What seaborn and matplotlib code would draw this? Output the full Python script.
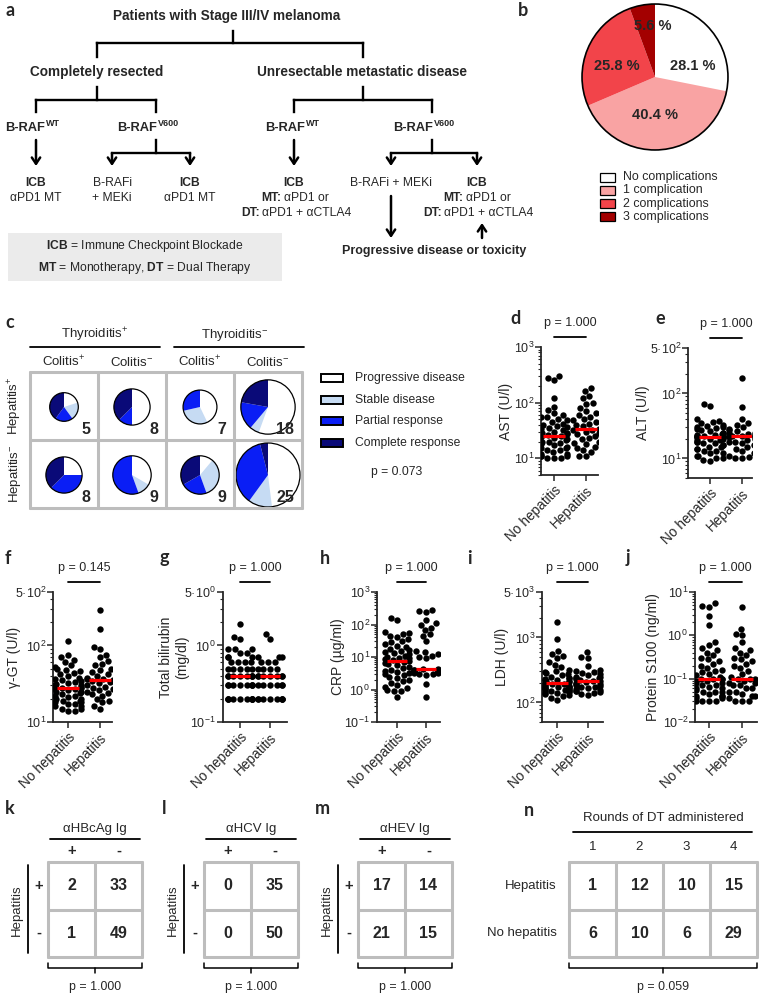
import numpy as np
import pandas as pd
import matplotlib
matplotlib.use("Agg")
import matplotlib.pyplot as plt
from matplotlib.patches import Rectangle, Circle
from matplotlib.ticker import LogLocator, NullFormatter
import seaborn as sns

# ---- data ----
complication_labels = ["No complications", "1 complication", "2 complications", "3 complications"]
complication_pct = [28.1, 40.4, 25.8, 5.6]
complication_colors = ["#FFFFFF", "#F9A3A3", "#F2444A", "#A30000"]

response_labels = ["Progressive disease", "Stable disease", "Partial response", "Complete response"]
response_colors = ["#FFFFFF", "#C6DBF3", "#0A1EF5", "#0A0A78"]
thyroiditis_groups = ["Thyroiditis$^{+}$", "Thyroiditis$^{-}$"]
colitis_groups = ["Colitis$^{+}$", "Colitis$^{-}$", "Colitis$^{+}$", "Colitis$^{-}$"]
hepatitis_groups = ["Hepatitis$^{+}$", "Hepatitis$^{-}$"]
# counts per cell: [progressive, stable, partial, complete]
resp_hep_pos = [[1, 1, 1, 2], [4, 0, 1, 3], [3, 2, 2, 0], [10, 1, 3, 4]]
resp_hep_neg = [[2, 0, 3, 3], [3, 1, 5, 0], [1, 3, 2, 3], [12, 3, 9, 1]]
resp_pval = "p = 0.073"

groups = ["No hepatitis", "Hepatitis"]
ast_no = [300, 280, 250, 120, 85, 75, 65, 60, 55, 55, 50, 48, 45, 42, 40, 38, 36, 35, 33, 32,
          30, 29, 28, 27, 26, 25, 25, 24, 23, 22, 21, 20, 20, 19, 18, 17, 16, 15, 15, 14,
          14, 13, 12, 12, 11, 11, 11, 10, 10, 10]
ast_hep = [180, 160, 130, 120, 100, 95, 80, 70, 65, 60, 55, 50, 48, 45, 42, 40, 38, 32, 33, 32,
           30, 28, 27, 25, 23, 22, 20, 19, 18, 16, 15, 14, 13, 11, 11]
alt_no = [70, 65, 40, 38, 36, 35, 33, 32, 30, 30, 29, 28, 27, 26, 25, 25, 24, 23, 23, 22,
          22, 21, 21, 21, 21, 21, 20, 20, 19, 19, 18, 18, 17, 17, 16, 16, 15, 15, 14, 14,
          13, 13, 12, 12, 11, 11, 10, 10, 9.5, 9]
alt_hep = [170, 62, 40, 35, 33, 30, 28, 27, 26, 25, 25, 24, 23, 23, 22, 22, 22, 22, 21, 21,
           20, 19, 18, 18, 17, 16, 15, 14, 13, 12, 12, 11, 10.5, 10, 10]
ggt_no = [115, 75, 70, 65, 60, 55, 52, 50, 48, 46, 44, 42, 40, 38, 36, 35, 34, 33, 32, 31,
          30, 30, 29, 29, 28, 28, 27, 27, 26, 25, 25, 24, 23, 22, 22, 21, 20, 20, 19, 19,
          18, 18, 17, 17, 16, 16, 15, 15, 14, 14]
ggt_hep = [290, 165, 95, 90, 75, 70, 62, 58, 55, 50, 48, 45, 42, 40, 38, 37, 36, 35, 34, 33,
           32, 30, 29, 28, 27, 26, 25, 24, 23, 22, 20, 19, 18, 16, 15]
bili_no = [1.9, 1.3, 1.2, 0.9, 0.9, 0.9, 0.8, 0.8, 0.7, 0.7, 0.7, 0.6, 0.6, 0.6, 0.6, 0.5, 0.5,
           0.5, 0.5, 0.5, 0.4, 0.4, 0.4, 0.4, 0.4, 0.4, 0.4, 0.4, 0.3, 0.3, 0.3, 0.3, 0.3, 0.3,
           0.3, 0.3, 0.2, 0.2, 0.2, 0.2, 0.2, 0.2, 0.2, 0.2, 0.2, 0.2]
bili_hep = [1.4, 1.2, 0.7, 0.7, 0.7, 0.6, 0.6, 0.6, 0.5, 0.5, 0.5, 0.5, 0.4, 0.4, 0.4, 0.4, 0.4,
            0.4, 0.4, 0.3, 0.3, 0.3, 0.3, 0.3, 0.3, 0.2, 0.2, 0.2, 0.2, 0.2, 0.2, 0.2, 0.2]
crp_no = [160, 140, 60, 55, 50, 45, 40, 35, 30, 28, 25, 22, 20, 18, 16, 15, 14, 13, 12, 11,
          10, 9.5, 9, 8.5, 8, 7.5, 7, 6.5, 6, 5.5, 5, 4.5, 4, 3.8, 3.5, 3.2, 3, 2.8, 2.5, 2.2,
          2, 1.8, 1.6, 1.4, 1.2, 1.1, 1, 0.9, 0.9, 0.6]
crp_hep = [280, 260, 250, 140, 110, 100, 80, 70, 50, 45, 30, 15, 14, 12, 11, 10, 9, 4.2, 4.2,
           4, 4, 4, 3.9, 3.8, 3.7, 3.6, 3.5, 3.4, 3.3, 3.2, 3, 2.9, 2.8, 1.5, 0.6]
ldh_no = [1700, 950, 620, 560, 520, 480, 420, 380, 350, 320, 300, 290, 280, 270, 260, 250, 240,
          235, 230, 225, 220, 215, 210, 205, 200, 195, 190, 185, 180, 178, 175, 172, 170, 168,
          165, 162, 160, 158, 155, 152, 150, 148, 145, 142, 140, 135, 130, 125, 118, 110]
ldh_hep = [600, 500, 480, 360, 320, 300, 290, 280, 270, 260, 250, 245, 240, 235, 230, 225, 215,
           210, 205, 200, 195, 190, 185, 180, 175, 170, 165, 160, 155, 150, 148, 145, 140, 135, 130]
s100_no = [5.5, 4.8, 4.6, 2.8, 1.7, 0.7, 0.6, 0.5, 0.45, 0.4, 0.35, 0.3, 0.28, 0.25, 0.22, 0.2,
           0.18, 0.16, 0.15, 0.14, 0.13, 0.12, 0.11, 0.1, 0.1, 0.1, 0.1, 0.09, 0.09, 0.08, 0.08,
           0.07, 0.07, 0.065, 0.06, 0.06, 0.055, 0.05, 0.05, 0.05, 0.045, 0.04, 0.04, 0.04,
           0.035, 0.035, 0.03, 0.03, 0.03, 0.03]
s100_hep = [4.6, 1.4, 1.1, 1.0, 0.7, 0.5, 0.45, 0.4, 0.35, 0.3, 0.28, 0.25, 0.22, 0.2, 0.18,
            0.15, 0.13, 0.11, 0.1, 0.1, 0.1, 0.09, 0.08, 0.08, 0.07, 0.07, 0.06, 0.06, 0.05,
            0.05, 0.045, 0.04, 0.04, 0.035, 0.03, 0.03, 0.03]
lab_pvals = ["p = 1.000", "p = 1.000", "p = 0.145", "p = 1.000", "p = 1.000", "p = 1.000", "p = 1.000"]

hbc_counts = [[2, 33], [1, 49]]
hcv_counts = [[0, 35], [0, 50]]
hev_counts = [[17, 14], [21, 15]]
serology_titles = ["αHBcAg Ig", "αHCV Ig", "αHEV Ig"]
serology_pvals = ["p = 1.000", "p = 1.000", "p = 1.000"]
dt_rounds = ["1", "2", "3", "4"]
dt_hep = [1, 12, 10, 15]
dt_nohep = [6, 10, 6, 29]
dt_pval = "p = 0.059"

# ---- figure ----
sns.set_style("ticks")
plt.rcParams["font.family"] = ["Liberation Sans", "DejaVu Sans"]
plt.rcParams["mathtext.fontset"] = "custom"
plt.rcParams["mathtext.rm"] = "Liberation Sans"
plt.rcParams["mathtext.it"] = "Liberation Sans:italic"
plt.rcParams["mathtext.bf"] = "Liberation Sans:bold"

W, H = 760, 994
fig = plt.figure(figsize=(W / 100, H / 100), dpi=100)


def px_axes(x0, y0, x1, y1):
    return fig.add_axes([x0 / W, 1 - y1 / H, (x1 - x0) / W, (y1 - y0) / H])


# ---- b: complications pie ----
axb = px_axes(580, 2, 730, 152)
axb.pie(complication_pct, colors=complication_colors, startangle=90, counterclock=False,
        radius=0.973, wedgeprops=dict(linewidth=0))
axb.add_patch(Circle((0, 0), 0.973, fill=False, ec="black", lw=1.2))
axb.set_xlim(-1, 1)
axb.set_ylim(-1, 1)
label_pos = [(0.51, 0.15), (0.0, -0.51), (-0.51, 0.15), (-0.03, 0.68)]
for v, (lx, ly) in zip(complication_pct, label_pos):
    axb.text(lx, ly, f"{v} %", ha="center", va="center", fontsize=10.5, fontweight="bold")

# ---- c: response pies ----
cell_x = [30, 98, 166, 234]
cell_y = [372, 440]
for r, row in enumerate([resp_hep_pos, resp_hep_neg]):
    for c, counts in enumerate(row):
        n = sum(counts)
        cx = cell_x[c] + 34
        cy = cell_y[r] + 35
        ax = px_axes(cx - 34, cy - 34, cx + 34, cy + 34)
        rad = 6.4 * np.sqrt(n) / 34
        ax.pie(counts, colors=response_colors, startangle=90, counterclock=False,
               radius=rad, wedgeprops=dict(linewidth=0))
        ax.add_patch(Circle((0, 0), rad, fill=False, ec="black", lw=0.9))
        ax.set_xlim(-1, 1)
        ax.set_ylim(-1, 1)

# ---- d-j: lab values ----
# (ylabel, values..., axes rect px, category x px, ylim, ticks, tick labels, ylabel right edge px)
lab_panels = [
    ("AST (U/l)", ast_no, ast_hep, (541, 347, 598, 475), (554, 586), (5, 1000),
     [10, 100, 1000], ["$10^{1}$", "$10^{2}$", "$10^{3}$"], 513),
    ("ALT (U/l)", alt_no, alt_hep, (688, 348, 752, 478), (710, 742), (5, 500),
     [10, 100, 500], ["$10^{1}$", "$10^{2}$", "5·$10^{2}$"], 650),
    ("γ-GT (U/l)", ggt_no, ggt_hep, (53, 592, 112, 722), (68, 100), (10, 500),
     [10, 100, 500], ["$10^{1}$", "$10^{2}$", "5·$10^{2}$"], 21),
    ("Total bilirubin\n(mg/dl)", bili_no, bili_hep, (223, 592, 287, 722), (240, 270), (0.1, 5),
     [0.1, 1, 5], ["$10^{-1}$", "$10^{0}$", "5·$10^{0}$"], 189),
    ("CRP (µg/ml)", crp_no, crp_hep, (377, 592, 440, 722), (397, 426), (0.1, 1000),
     [0.1, 1, 10, 100, 1000], ["$10^{-1}$", "$10^{0}$", "$10^{1}$", "$10^{2}$", "$10^{3}$"], 345),
    ("LDH (U/l)", ldh_no, ldh_hep, (542, 592, 603, 722), (557, 588), (50, 5000),
     [100, 1000, 5000], ["$10^{2}$", "$10^{3}$", "5·$10^{3}$"], 509),
    ("Protein S100 (ng/ml)", s100_no, s100_hep, (695, 592, 757, 722), (709, 742), (0.01, 10),
     [0.01, 0.1, 1, 10], ["$10^{-2}$", "$10^{-1}$", "$10^{0}$", "$10^{1}$"], 660),
]

for (ylabel, no_vals, hep_vals, rect, cats, ylim, ticks, ticklabels, lab_x), pval in zip(lab_panels, lab_pvals):
    x0, y0, x1, y1 = rect
    ax = px_axes(*rect)
    df = pd.DataFrame({"group": [groups[0]] * len(no_vals) + [groups[1]] * len(hep_vals),
                       "value": no_vals + hep_vals})
    sns.swarmplot(data=df, x="group", y="value", order=groups, color="black", size=4.6,
                  log_scale=True, ax=ax, zorder=3)
    for i, vals in enumerate([no_vals, hep_vals]):
        ax.hlines(np.median(vals), i - 0.34, i + 0.34, color="#FF0000", lw=2.3, zorder=4)
    unit = cats[1] - cats[0]
    ax.set_xlim((x0 - cats[0]) / unit, (x1 - cats[0]) / unit)
    ax.set_ylim(*ylim)
    ax.set_yticks(ticks)
    ax.set_yticklabels(ticklabels, fontsize=9)
    ax.yaxis.set_minor_locator(LogLocator(base=10, subs=np.arange(2, 10)))
    ax.yaxis.set_minor_formatter(NullFormatter())
    ax.tick_params(axis="y", which="major", length=4, width=1.1, pad=1)
    ax.tick_params(axis="y", which="minor", length=2, width=0.8)
    ax.tick_params(axis="x", length=4, width=1.1, pad=2)
    ax.set_xticks([0, 1])
    ax.set_xticklabels(groups, rotation=45, ha="right", rotation_mode="anchor", fontsize=9.8)
    ax.set_xlabel("")
    ax.set_ylabel(ylabel, fontsize=10)
    ax.yaxis.set_label_coords((lab_x - x0) / (x1 - x0), 0.5)
    sns.despine(ax=ax)
    for s in ["left", "bottom"]:
        ax.spines[s].set_linewidth(1.3)
    hgt = y1 - y0
    ax.plot([0, 1], [1 + 10 / hgt] * 2, transform=ax.get_xaxis_transform(), color="black",
            lw=1.3, clip_on=False)
    ax.text(0.5, 1 + 24 / hgt, pval, transform=ax.get_xaxis_transform(), ha="center",
            va="center", fontsize=9)

# ---- overlay: flowchart, labels, tables ----
ov = fig.add_axes([0, 0, 1, 1])
ov.set_xlim(0, W)
ov.set_ylim(H, 0)
ov.axis("off")
ov.patch.set_alpha(0)

LW = dict(color="black", lw=1.7, solid_capstyle="projecting")


def tree(stem_x, y_top, y_mid, xl, xr, y_bot):
    ov.plot([stem_x, stem_x], [y_top, y_mid], **LW)
    ov.plot([xl, xr], [y_mid, y_mid], **LW)
    ov.plot([xl, xl], [y_mid, y_bot], **LW)
    ov.plot([xr, xr], [y_mid, y_bot], **LW)


def arrow(x, y_from, y_to):
    ov.annotate("", xy=(x, y_to), xytext=(x, y_from),
                arrowprops=dict(arrowstyle="->,head_length=0.45,head_width=0.3", lw=1.8,
                                color="black", shrinkA=0, shrinkB=0))


def braf(x_split, y, sup):
    ov.text(x_split, y, "B-RAF", ha="right", va="center", fontsize=9.3, fontweight="bold")
    ov.text(x_split + 0.5, y - 4, sup, ha="left", va="center", fontsize=6.5, fontweight="bold")


fs = 8.7
hfs = 9.8


def bold_lead(x_split, y, lead, rest):
    ov.text(x_split, y, lead, ha="right", va="center", fontsize=fs, fontweight="bold")
    ov.text(x_split + 2.5, y, rest, ha="left", va="center", fontsize=fs)


ov.text(227, 16, "Patients with Stage III/IV melanoma", ha="center", va="center", fontsize=hfs, fontweight="bold")
tree(233, 31, 43, 97, 363, 57)
ov.text(97, 72, "Completely resected", ha="center", va="center", fontsize=hfs, fontweight="bold")
ov.text(362, 72, "Unresectable metastatic disease", ha="center", va="center", fontsize=hfs, fontweight="bold")
tree(97, 87, 100, 36, 156, 112)
tree(363, 87, 100, 294, 432, 112)
braf(45, 128, "WT")
braf(157, 128, "V600")
braf(305, 128, "WT")
braf(433, 128, "V600")
arrow(36, 140, 166)
arrow(294, 140, 166)
ov.plot([156, 156], [140, 153], **LW)
ov.plot([112, 190], [153, 153], **LW)
arrow(112, 153, 166)
arrow(190, 153, 166)
ov.plot([432, 432], [140, 153], **LW)
ov.plot([391, 477], [153, 153], **LW)
arrow(391, 153, 166)
arrow(477, 153, 166)

ov.text(36, 183, "ICB", ha="center", va="center", fontsize=fs, fontweight="bold")
ov.text(36, 198, "αPD1 MT", ha="center", va="center", fontsize=fs)
ov.text(112, 183, "B-RAFi", ha="center", va="center", fontsize=fs)
ov.text(112, 198, "+ MEKi", ha="center", va="center", fontsize=fs)
ov.text(190, 183, "ICB", ha="center", va="center", fontsize=fs, fontweight="bold")
ov.text(190, 198, "αPD1 MT", ha="center", va="center", fontsize=fs)
for cx, mt_split, dt_split in [(294, 281, 260), (477, 463, 442)]:
    ov.text(cx, 183, "ICB", ha="center", va="center", fontsize=fs, fontweight="bold")
    bold_lead(mt_split, 198, "MT:", "αPD1 or")
    bold_lead(dt_split, 213, "DT:", "αPD1 + αCTLA4")
ov.text(391, 183, "B-RAFi + MEKi", ha="center", va="center", fontsize=fs)
arrow(391, 196, 238)
arrow(482, 238, 223)
ov.text(434, 251, "Progressive disease or toxicity", ha="center", va="center", fontsize=9, fontweight="bold")
ov.add_patch(Rectangle((8, 233), 274, 48, facecolor="#EBEBEB", edgecolor="none"))
ov.text(145, 246, r"$\mathbf{ICB}$ = Immune Checkpoint Blockade", ha="center", va="center", fontsize=fs)
ov.text(145, 268, r"$\mathbf{MT}$ = Monotherapy, $\mathbf{DT}$ = Dual Therapy", ha="center", va="center", fontsize=fs)

# panel letters
letters = {"a": (5, 10), "b": (518, 10), "c": (5, 322), "d": (510, 318), "e": (655, 318),
           "f": (5, 558), "g": (160, 558), "h": (320, 558), "i": (467, 558), "j": (626, 558),
           "k": (5, 808), "l": (162, 808), "m": (315, 808), "n": (524, 810)}
for lt, (lx, ly) in letters.items():
    ov.text(lx, ly, lt, ha="left", va="center", fontsize=13, fontweight="bold", family="Lato")

# b legend
for i, (lab, col) in enumerate(zip(complication_labels, complication_colors)):
    yy = 177 + 13.3 * i
    ov.add_patch(Rectangle((600, yy - 4.5), 15, 9, facecolor=col, edgecolor="black", lw=0.9))
    ov.text(623, yy, lab, ha="left", va="center", fontsize=8.9)

# c grid & labels
gray = "#BDBDBD"
for x in [30, 98, 166, 234, 302]:
    ov.plot([x, x], [372, 508], color=gray, lw=2.2)
for y in [372, 440, 508]:
    ov.plot([30, 302], [y, y], color=gray, lw=2.2)
for r, row in enumerate([resp_hep_pos, resp_hep_neg]):
    for c, counts in enumerate(row):
        ov.text(cell_x[c] + 60, cell_y[r] + 58, str(sum(counts)), ha="right", va="center",
                fontsize=11.5, fontweight="bold")
for i, lab in enumerate(thyroiditis_groups):
    ov.text(95 + 140 * i, 335, lab, ha="center", va="center", fontsize=9.5)
    ov.plot([30 + 144 * i, 160 + 144 * i], [347, 347], color="black", lw=1.3)
for i, lab in enumerate(colitis_groups):
    ov.text(cell_x[i] + 34, 362, lab, ha="center", va="center", fontsize=9.5)
for i, lab in enumerate(hepatitis_groups):
    ov.text(15, 406 + 68 * i, lab, ha="center", va="center", rotation=90, fontsize=9.5)
for i, (lab, col) in enumerate(zip(response_labels, response_colors)):
    yy = 378 + 21.7 * i
    ov.add_patch(Rectangle((321, yy - 4), 22, 8, facecolor=col, edgecolor="black", lw=1.4))
    ov.text(355, yy, lab, ha="left", va="center", fontsize=8.7)
ov.text(397, 472, resp_pval, ha="center", va="center", fontsize=8.7)


# k-n tables
def table_bracket(xl, xr, pval):
    ov.plot([xl, xl, xr, xr], [963, 968, 968, 963], color="black", lw=1.1)
    ov.plot([(xl + xr) / 2] * 2, [968, 973], color="black", lw=1.1)
    ov.text((xl + xr) / 2, 987, pval, ha="center", va="center", fontsize=8.9)


def grid(x0, ncol, vals):
    cw = 47
    ys = [862, 909.5, 957]
    for j in range(ncol + 1):
        ov.plot([x0 + cw * j] * 2, [ys[0], ys[2]], color=gray, lw=2.2)
    for y in ys:
        ov.plot([x0, x0 + cw * ncol], [y, y], color=gray, lw=2.2)
    for r in range(2):
        for j in range(ncol):
            ov.text(x0 + cw * j + cw / 2, (ys[r] + ys[r + 1]) / 2, str(vals[r][j]), ha="center",
                    va="center", fontsize=11.5, fontweight="bold")


for x0, title, counts, pval in zip([48, 204, 358], serology_titles,
                                    [hbc_counts, hcv_counts, hev_counts], serology_pvals):
    grid(x0, 2, counts)
    ov.text(x0 + 47, 829, title, ha="center", va="center", fontsize=9.5)
    ov.plot([x0 + 2, x0 + 92], [839, 839], color="black", lw=1.3)
    ov.text(x0 + 23.5, 851, "+", ha="center", va="center", fontsize=10.5, fontweight="bold")
    ov.text(x0 + 70.5, 851, "-", ha="center", va="center", fontsize=10.5, fontweight="bold")
    ov.plot([x0 - 20] * 2, [865, 953], color="black", lw=1.3)
    ov.text(x0 - 31, 910, "Hepatitis", ha="center", va="center", rotation=90, fontsize=9.5)
    ov.text(x0 - 9, 886, "+", ha="center", va="center", fontsize=10.5, fontweight="bold")
    ov.text(x0 - 9, 933, "-", ha="center", va="center", fontsize=10.5, fontweight="bold")
    table_bracket(x0, x0 + 94, pval)

grid(569, 4, [dt_hep, dt_nohep])
ov.text(663, 818, "Rounds of DT administered", ha="center", va="center", fontsize=9.5)
ov.plot([573, 752], [832, 832], color="black", lw=1.3)
for j, lab in enumerate(dt_rounds):
    ov.text(569 + 47 * j + 23.5, 847, lab, ha="center", va="center", fontsize=9.5)
ov.text(557, 886, "Hepatitis", ha="right", va="center", fontsize=9.5)
ov.text(557, 933, "No hepatitis", ha="right", va="center", fontsize=9.5)
table_bracket(569, 757, dt_pval)

fig.savefig("out.png", dpi=100)
